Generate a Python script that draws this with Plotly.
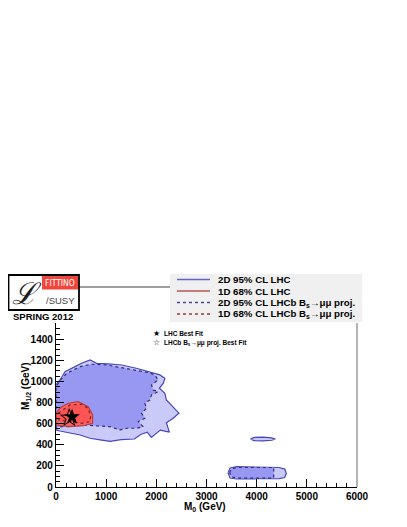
import plotly.graph_objects as go

# ---- data (M0, M1/2 in GeV) ----
lhc95_x = [0, 0, 80, 180, 380, 510, 680, 810, 1040, 1310, 1600, 1870, 2070, 2170, 2140, 2060,
           2170, 2200, 2330, 2450, 2330, 2200, 2260, 2080, 1900, 1820, 1700, 1560, 1300, 1080,
           880, 680, 480, 280, 80, 0]
lhc95_y = [540, 970, 1015, 1094, 1141, 1173, 1205, 1173, 1167, 1157, 1126, 1094, 1063, 1031, 984, 936,
           889, 825, 762, 700, 650, 610, 520, 540, 470, 520, 500, 455, 450, 432,
           446, 462, 493, 509, 531, 540]

lhcb95_x = [0, 0, 80, 212, 478, 710, 1000, 1307, 1600, 1840, 1970, 2036, 1904, 1937, 2036, 1904,
            1871, 1771, 1804, 1705, 1771, 1638, 1738, 1605, 1406, 1274, 1075, 800, 544, 279, 46, 0]
lhcb95_y = [570, 950, 1010, 1078, 1141, 1164, 1158, 1132, 1110, 1085, 1063, 1015, 968, 920, 904, 873,
            825, 794, 746, 699, 652, 620, 572, 557, 557, 541, 572, 580, 588, 572, 572, 570]

lhc68_x = [0, 20, 113, 245, 444, 643, 730, 730, 544, 279, 60, 0]
lhc68_y = [595, 715, 762, 794, 809, 762, 683, 604, 581, 572, 585, 595]

lhcb68_x = [46, 146, 279, 511, 643, 690, 677, 511, 212, 46]
lhcb68_y = [699, 730, 778, 784, 746, 667, 620, 604, 620, 636]

isl1_x = [3875, 3950, 4120, 4300, 4372, 4300, 4120, 3950, 3875]
isl1_y = [455, 470, 473, 466, 455, 443, 438, 440, 455]

isl2_x = [3430, 3470, 3600, 4000, 4450, 4560, 4590, 4560, 4450, 4000, 3600, 3470, 3430]
isl2_y = [135, 180, 193, 190, 185, 170, 130, 90, 80, 78, 76, 85, 135]

isl2b_x = [3460, 3500, 3650, 4340, 4340, 3650, 3500, 3460]
isl2b_y = [135, 175, 185, 185, 85, 85, 95, 135]

best_lhc = (320, 665)
best_lhcb = (265, 655)

x_ticks = [0, 1000, 2000, 3000, 4000, 5000, 6000]
y_ticks = [0, 200, 400, 600, 800, 1000, 1200, 1400]

legend_rows = [
    ('2D 95% CL LHC', 'rgb(100,100,200)', 'solid'),
    ('1D 68% CL LHC', 'rgb(180,90,90)', 'solid'),
    ('2D 95% CL LHCb B<sub>s</sub>→μμ proj.', 'rgb(70,70,160)', 'dot'),
    ('1D 68% CL LHCb B<sub>s</sub>→μμ proj.', 'rgb(150,60,60)', 'dot'),
]

# ---- colours ----
blue_light = 'rgb(202,202,248)'
blue_mid = 'rgb(152,152,242)'
blue_line = 'rgb(70,70,190)'
blue_dash = 'rgb(45,45,120)'
red_fill = 'rgb(248,100,100)'
red_fill2 = 'rgb(255,84,84)'
red_line = 'rgb(190,60,60)'
red_dash = 'rgb(120,40,40)'
FONT = 'Liberation Sans'

# the page body adds an 8px offset, so the figure is 8px smaller than the window
OFF = 8
W, H = 407 - OFF, 527 - OFF
# plot area in window pixels: 56..357 x 323..487
X0, PW, Y1, PH = 56, 301, 487, 164
def px(p):
    return (p - X0) / PW
def py(p):
    return (Y1 - p) / PH

fig = go.Figure()

def poly(x, y, fill, line_col, dash, name):
    fig.add_trace(go.Scatter(
        x=x, y=y, mode='lines', fill='toself', fillcolor=fill,
        line=dict(color=line_col, width=1.2, dash=dash),
        name=name, hoverinfo='skip', showlegend=False,
    ))

poly(lhc95_x, lhc95_y, blue_light, blue_line, 'solid', '2D 95% CL LHC')
poly(isl1_x, isl1_y, blue_light, blue_line, 'solid', '2D 95% CL LHC')
poly(isl2_x, isl2_y, blue_light, blue_line, 'solid', '2D 95% CL LHC')
poly(lhcb95_x, lhcb95_y, blue_mid, blue_dash, 'dot', '2D 95% CL LHCb')
poly(isl2b_x, isl2b_y, blue_mid, blue_dash, 'dot', '2D 95% CL LHCb')
poly(lhc68_x, lhc68_y, red_fill, red_line, 'solid', '1D 68% CL LHC')
poly(lhcb68_x, lhcb68_y, red_fill2, red_dash, 'dot', '1D 68% CL LHCb')

# best fit points
fig.add_trace(go.Scatter(
    x=[best_lhcb[0]], y=[best_lhcb[1]], mode='markers',
    marker=dict(symbol='star-open', size=13, color='black', line=dict(width=1, color='black')),
    hoverinfo='skip', showlegend=False,
))
fig.add_trace(go.Scatter(
    x=[best_lhc[0]], y=[best_lhc[1]], mode='markers',
    marker=dict(symbol='star', size=12, color='black'),
    hoverinfo='skip', showlegend=False,
))

shapes = []
ann = []

# right frame
shapes.append(dict(type='line', xref='paper', yref='paper', x0=1, x1=1, y0=0, y1=1,
                   line=dict(color='rgb(130,130,130)', width=1.2)))

# legend box
shapes.append(dict(type='rect', xref='paper', yref='paper', x0=px(170), x1=px(362),
                   y0=py(322), y1=py(274), fillcolor='rgb(240,240,240)', line=dict(width=0),
                   layer='above'))
rows_y = [279.5, 291, 302.5, 314]
for (txt, col, dash), ry in zip(legend_rows, rows_y):
    shapes.append(dict(type='line', xref='paper', yref='paper', x0=px(177), x1=px(210),
                       y0=py(ry), y1=py(ry), line=dict(color=col, width=1.3, dash=dash)))
    ann.append(dict(xref='paper', yref='paper', x=px(216), y=py(ry), text='<b>' + txt + '</b>',
                    showarrow=False, xanchor='left', yanchor='middle',
                    font=dict(family=FONT, size=9.7, color='black')))

# best-fit legend
ann.append(dict(xref='paper', yref='paper', x=px(156), y=py(333.5), text='★', showarrow=False,
                xanchor='center', yanchor='middle', font=dict(family='DejaVu Sans', size=8, color='black')))
ann.append(dict(xref='paper', yref='paper', x=px(156), y=py(342.5), text='☆', showarrow=False,
                xanchor='center', yanchor='middle', font=dict(family='DejaVu Sans', size=8, color='black')))
ann.append(dict(xref='paper', yref='paper', x=px(162), y=py(333.5), text='<b>LHC Best Fit</b>',
                showarrow=False, xanchor='left', yanchor='middle',
                font=dict(family=FONT, size=6.5, color='black')))
ann.append(dict(xref='paper', yref='paper', x=px(162), y=py(342.5),
                text='<b>LHCb B<sub>s</sub>→μμ proj. Best Fit</b>',
                showarrow=False, xanchor='left', yanchor='middle',
                font=dict(family=FONT, size=6.5, color='black')))

# logo
shapes.append(dict(type='line', xref='paper', yref='paper', x0=px(79), x1=px(170),
                   y0=py(287), y1=py(287), line=dict(color='rgb(60,60,60)', width=1)))
shapes.append(dict(type='rect', xref='paper', yref='paper', x0=px(8.5), x1=px(79),
                   y0=py(310), y1=py(275), fillcolor='white', line=dict(color='black', width=1.8)))
shapes.append(dict(type='rect', xref='paper', yref='paper', x0=px(42), x1=px(78),
                   y0=py(289.5), y1=py(276), fillcolor='rgb(240,70,60)', line=dict(width=0)))
ann.append(dict(xref='paper', yref='paper', x=px(60), y=py(283), text='FITTINO', showarrow=False,
                xanchor='center', yanchor='middle',
                font=dict(family='DejaVu Sans Condensed', size=8.5, color='white')))
ann.append(dict(xref='paper', yref='paper', x=px(27), y=py(293), text='<i>ℒ</i>', showarrow=False,
                xanchor='center', yanchor='middle',
                font=dict(family='DejaVu Serif', size=30, color='rgb(30,30,30)')))
ann.append(dict(xref='paper', yref='paper', x=px(60), y=py(300), text='/SUSY', showarrow=False,
                xanchor='center', yanchor='middle',
                font=dict(family=FONT, size=9.5, color='rgb(70,70,70)')))
ann.append(dict(xref='paper', yref='paper', x=px(43), y=py(316), text='<b>SPRING 2012</b>',
                showarrow=False, xanchor='center', yanchor='middle',
                font=dict(family=FONT, size=9.5, color='black')))

# axis titles
ann.append(dict(xref='paper', yref='paper', x=px(205), y=py(507), text='<b>M<sub>0</sub> (GeV)</b>',
                showarrow=False, xanchor='center', yanchor='middle',
                font=dict(family=FONT, size=10, color='black')))
ann.append(dict(xref='paper', yref='paper', x=px(26), y=py(386), text='<b>M<sub>1/2</sub> (GeV)</b>',
                showarrow=False, xanchor='center', yanchor='middle', textangle=-90,
                font=dict(family=FONT, size=10, color='black')))

fig.update_layout(
    width=W, height=H,
    margin=dict(l=X0 - OFF, r=W - (X0 - OFF) - PW, t=Y1 - PH - OFF, b=H - (Y1 - OFF)),
    paper_bgcolor='white', plot_bgcolor='white',
    font=dict(family=FONT, size=10, color='black'),
    shapes=shapes, annotations=ann,
    xaxis=dict(
        range=[0, 6000], tickvals=x_ticks, ticktext=[f'<b>{v}</b>' for v in x_ticks],
        showgrid=False, zeroline=False, showline=True, linecolor='black', linewidth=1.3,
        ticks='inside', ticklen=8, tickcolor='black', tickwidth=1,
        minor=dict(dtick=200, ticks='inside', ticklen=4, tickcolor='black', showgrid=False),
        tickfont=dict(family=FONT, size=10, color='black'),
    ),
    yaxis=dict(
        range=[0, 1555], tickvals=y_ticks, ticktext=[f'<b>{v}</b>' for v in y_ticks],
        showgrid=False, zeroline=False, showline=True, linecolor='black', linewidth=1.3,
        ticks='inside', ticklen=8, tickcolor='black', tickwidth=1,
        minor=dict(dtick=50, ticks='inside', ticklen=4, tickcolor='black', showgrid=False),
        tickfont=dict(family=FONT, size=10, color='black'),
    ),
)

fig.write_html('out.html')
